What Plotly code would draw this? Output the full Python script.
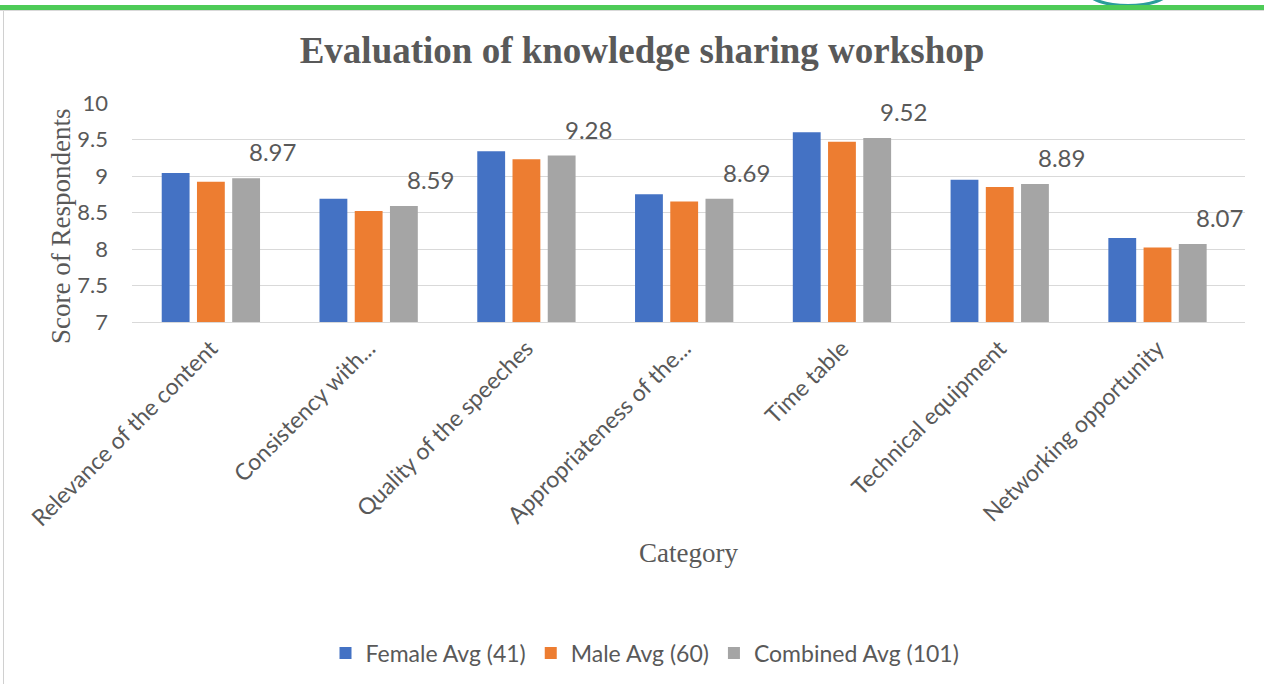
import plotly.graph_objects as go

categories = ["Relevance of the content", "Consistency with...", "Quality of the speeches",
              "Appropriateness of the...", "Time table", "Technical equipment",
              "Networking opportunity"]
female = [9.04, 8.69, 9.34, 8.75, 9.60, 8.95, 8.15]
male = [8.92, 8.52, 9.23, 8.65, 9.47, 8.85, 8.02]
combined = [8.97, 8.59, 9.28, 8.69, 9.52, 8.89, 8.07]
series_names = ["Female Avg (41)", "Male Avg (60)", "Combined Avg (101)"]
colors = ["#4472C4", "#ED7D31", "#A5A5A5"]
y_ticks = [7, 7.5, 8, 8.5, 9, 9.5, 10]

TXT = "#595959"
SANS = "Lato, 'Open Sans', sans-serif"
SERIF = "'Liberation Serif', 'DejaVu Serif', serif"

fig = go.Figure()
for name, vals, col in zip(series_names, [female, male, combined], colors):
    fig.add_trace(go.Bar(x=categories, y=vals, name=name, marker_color=col,
                         marker_line_width=0))

annotations = []
for c, v in zip(categories, combined):
    annotations.append(dict(x=c, y=v, xref="x", yref="y", text=f"{v:.2f}",
                            showarrow=False, yanchor="bottom", xshift=62, yshift=10,
                            font=dict(family=SANS, size=24, color=TXT)))

L, R, T, B = 132, 19, 103, 362
pw = 1264 - L - R
ph = 684 - T - B

def px(xp):
    return (xp - L) / pw

def py(yp):
    return (684 - B - yp) / ph

annotations.append(dict(x=px(61), y=py(227), xref="paper", yref="paper",
                        xanchor="center", yanchor="middle",
                        text="Score of Respondents", textangle=-90, showarrow=False,
                        font=dict(family=SERIF, size=27, color=TXT)))
annotations.append(dict(x=px(688), y=py(553), xref="paper", yref="paper",
                        xanchor="center", yanchor="middle",
                        text="Category", showarrow=False,
                        font=dict(family=SERIF, size=27, color=TXT)))

shapes = [
    dict(type="circle", xref="paper", yref="paper", x0=px(1088), x1=px(1168), y0=py(5.5), y1=py(-22),
         line=dict(color="#2A9D9A", width=3), layer="below"),
    dict(type="rect", xref="paper", yref="paper", x0=px(0), x1=px(1264), y0=py(10), y1=py(5),
         fillcolor="#4DCB57", line_width=0, layer="above"),
    dict(type="line", xref="paper", yref="paper", x0=px(0), x1=px(1264), y0=py(10.5), y1=py(10.5),
         line=dict(color="#D9D9D9", width=1)),
    dict(type="line", xref="paper", yref="paper", x0=px(3.5), x1=px(3.5), y0=py(11), y1=py(684),
         line=dict(color="#D0D0D0", width=1)),
]

fig.update_layout(
    width=1264, height=684,
    margin=dict(l=L, r=R, t=T, b=B, autoexpand=False),
    paper_bgcolor="white", plot_bgcolor="white",
    barmode="group", bargap=0.33, bargroupgap=0.21,
    title=dict(text="<b>Evaluation of knowledge sharing workshop</b>", x=642 / 1264, y=1 - 50 / 684,
               xref="container", yref="container", xanchor="center", yanchor="middle",
               font=dict(family=SERIF, size=37, color=TXT)),
    xaxis=dict(tickangle=-45, tickfont=dict(family=SANS, size=23, color=TXT),
               showline=True, linecolor="#D9D9D9", linewidth=1, ticks="",
               ticklabelstandoff=3),
    yaxis=dict(range=[7, 10], tickvals=y_ticks, ticktext=[f"{t:g}" for t in y_ticks],
               tickfont=dict(family=SANS, size=22, color=TXT),
               gridcolor="#D9D9D9", gridwidth=1, zeroline=False, ticks="",
               ticklabelstandoff=23),
    legend=dict(orientation="h", x=645 / 1264, xref="container", xanchor="center",
                y=1 - 653 / 684, yref="container", yanchor="middle",
                font=dict(family=SANS, size=23, color=TXT), itemwidth=30,
                traceorder="normal"),
    annotations=annotations,
    shapes=shapes,
)

fig.write_html("out.html", config={"displayModeBar": False},
               post_script="document.body.style.margin='0px';")
